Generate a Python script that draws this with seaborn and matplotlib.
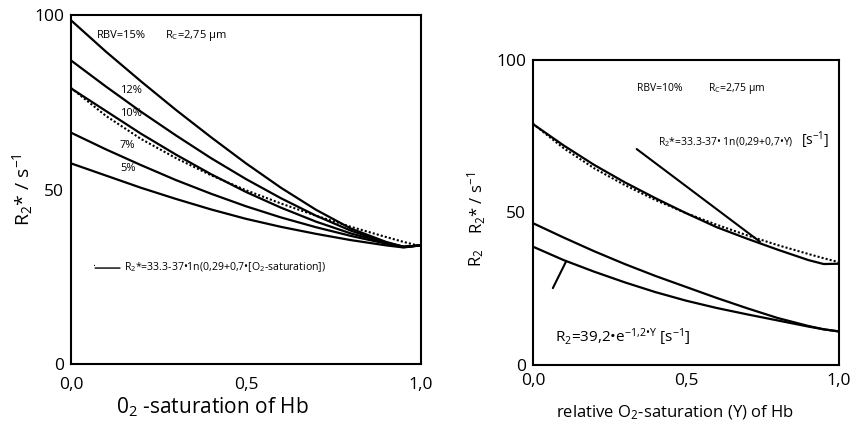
import numpy as np
import pandas as pd
import matplotlib
matplotlib.use('Agg')
import matplotlib.pyplot as plt
import seaborn as sns

sns.set_style('white')
plt.rcParams['font.family'] = ['Open Sans', 'DejaVu Sans']
plt.rcParams['mathtext.fontset'] = 'custom'
plt.rcParams['mathtext.rm'] = 'Open Sans'
plt.rcParams['mathtext.it'] = 'Open Sans'
for k in ['text.color', 'axes.labelcolor', 'xtick.color', 'ytick.color']:
    plt.rcParams[k] = 'black'

# saturation grid
sat = [0.0, 0.1, 0.2, 0.3, 0.4, 0.5, 0.6, 0.7, 0.8, 0.9, 0.95, 1.0]

# left panel: R2* for several RBV values
rbv_15 = [98.5, 89.5, 81.0, 72.8, 65.0, 57.5, 50.5, 44.2, 38.8, 35.0, 33.6, 34.0]
rbv_12 = [87.0, 79.5, 72.3, 65.5, 59.0, 53.0, 47.5, 42.5, 38.2, 34.8, 33.6, 34.0]
rbv_10 = [79.0, 72.5, 66.0, 60.0, 54.4, 49.3, 44.8, 40.8, 37.4, 34.7, 33.6, 34.0]
rbv_7 = [66.3, 61.5, 57.0, 52.7, 48.8, 45.2, 42.0, 39.2, 36.7, 34.5, 33.5, 34.0]
rbv_5 = [57.5, 54.0, 50.5, 47.3, 44.3, 41.6, 39.3, 37.3, 35.5, 34.0, 33.4, 34.0]
fit_r2s = [79.1, 71.1, 64.5, 59.0, 54.1, 49.8, 46.0, 42.5, 39.3, 36.4, 35.0, 33.7]

# right panel
r2s_rbv10 = [79.0, 72.0, 65.6, 59.9, 54.7, 49.8, 45.2, 41.4, 37.8, 34.4, 33.1, 33.2]
r2_sim = [46.5, 41.8, 37.3, 33.1, 29.2, 25.6, 22.0, 18.6, 15.4, 12.8, 11.7, 11.0]
r2_fit = [38.8, 34.4, 30.6, 27.1, 23.9, 21.1, 18.7, 16.6, 14.6, 12.6, 11.7, 11.0]

left_curves = {'15%': rbv_15, '12%': rbv_12, '10%': rbv_10, '7%': rbv_7, '5%': rbv_5}
df_left = pd.concat([pd.DataFrame({'Y': sat, 'R2s': v, 'rbv': k}) for k, v in left_curves.items()])
df_right = pd.concat([pd.DataFrame({'Y': sat, 'R': v, 'curve': k}) for k, v in
                      {'r2s': r2s_rbv10, 'r2_sim': r2_sim, 'r2_fit': r2_fit}.items()])
df_fit = pd.DataFrame({'Y': sat, 'R2s': fit_r2s})

fig = plt.figure(figsize=(8.5, 4.26), dpi=100)
ax1 = fig.add_axes([0.0835, 0.1455, 0.4118, 0.8192])
ax2 = fig.add_axes([0.627, 0.1432, 0.36, 0.716])

# ---- left
sns.lineplot(data=df_left, x='Y', y='R2s', units='rbv', estimator=None, color='black', lw=1.6, ax=ax1)
sns.lineplot(data=df_fit, x='Y', y='R2s', color='black', lw=1.5, ls=(0, (1, 1)), ax=ax1)
ax1.set_xlim(0, 1)
ax1.set_ylim(0, 100)
ax1.set_xticks([0, 0.5, 1.0], ['0,0', '0,5', '1,0'])
ax1.set_yticks([0, 50, 100], ['0', '50', '100'])
ax1.tick_params(axis='x', length=0, labelsize=12.5, pad=9)
ax1.tick_params(axis='y', length=0, labelsize=12.5, pad=5)
ax1.set_xlabel('')
ax1.set_ylabel('')

fs = 8
ax1.text(0.074, 94, 'RBV=15%', fontsize=fs, va='center')
ax1.text(0.269, 94, r'R$_\mathrm{C}$=2,75 µm', fontsize=fs, va='center')
for lab, yv in [('12%', 78.5), ('10%', 71.9), ('7%', 62.5), ('5%', 55.9)]:
    ax1.text(0.14, yv, lab, fontsize=fs, va='center')
ax1.annotate('', xy=(0.069, 27.5), xytext=(0.14, 27.5),
             arrowprops=dict(arrowstyle='-', color='black', lw=1, shrinkA=0, shrinkB=0))
ax1.text(0.061, 27.3, '.', fontsize=fs, va='bottom')
ax1.text(0.152, 27.8, r'R$_2$*=33.3-37•1n(0,29+0,7•[O$_2$-saturation])', fontsize=7.6, va='center')

fig.text(0.026, 0.554, r'R$_2$* / s$^{-1}$', rotation=90, ha='center', va='center', fontsize=14)
fig.text(0.25, 0.045, r'0$_2$ -saturation of Hb', ha='center', va='center', fontsize=15)

# ---- right
sns.lineplot(data=df_right, x='Y', y='R', units='curve', estimator=None, color='black', lw=1.6, ax=ax2)
sns.lineplot(data=df_fit, x='Y', y='R2s', color='black', lw=1.5, ls=(0, (1, 1)), ax=ax2)
ax2.set_xlim(0, 1)
ax2.set_ylim(0, 100)
ax2.set_xticks([0, 0.5, 1.0], ['0,0', '0,5', '1,0'])
ax2.set_yticks([0, 50, 100], ['0', '50', '100'])
ax2.tick_params(axis='x', direction='in', length=5, width=1.2, labelsize=12.5, pad=6)
ax2.tick_params(axis='y', direction='out', length=4, width=1.2, labelsize=12.5, pad=1)
ax2.set_xlabel('')
ax2.set_ylabel('')

ax2.text(0.34, 90.8, 'RBV=10%', fontsize=7.5, va='center')
ax2.text(0.572, 90.8, r'R$_\mathrm{C}$=2,75 µm', fontsize=7.5, va='center')
ax2.text(0.408, 73.1, r'R$_2$*=33.3-37• 1n(0,29+0,7•Y)', fontsize=7.5, va='center')
ax2.text(0.875, 73.6, r'[s$^{-1}$]', fontsize=10, va='center')
ax2.annotate('', xy=(0.742, 40.4), xytext=(0.339, 70.8),
             arrowprops=dict(arrowstyle='-', color='black', lw=1.5, shrinkA=0, shrinkB=0))
ax2.annotate('', xy=(0.108, 33.9), xytext=(0.065, 25.2),
             arrowprops=dict(arrowstyle='-', color='black', lw=1.5, shrinkA=0, shrinkB=0))
ax2.text(0.072, 9.2, r'R$_2$=39,2•e$^{-1{,}2•Y}$ [s$^{-1}$]', fontsize=11, va='center')

fig.text(0.561, 0.523, r'R$_2$* / s$^{-1}$', rotation=90, ha='center', va='center', fontsize=12)
fig.text(0.561, 0.394, r'R$_2$', rotation=90, ha='center', va='center', fontsize=12)
fig.text(0.794, 0.031, r'relative O$_2$-saturation (Y) of Hb', ha='center', va='center', fontsize=12)

for ax in (ax1, ax2):
    for s in ax.spines.values():
        s.set_visible(True)
        s.set_color('black')
        s.set_linewidth(1.5)

fig.savefig('out.png', dpi=100, facecolor='white')
